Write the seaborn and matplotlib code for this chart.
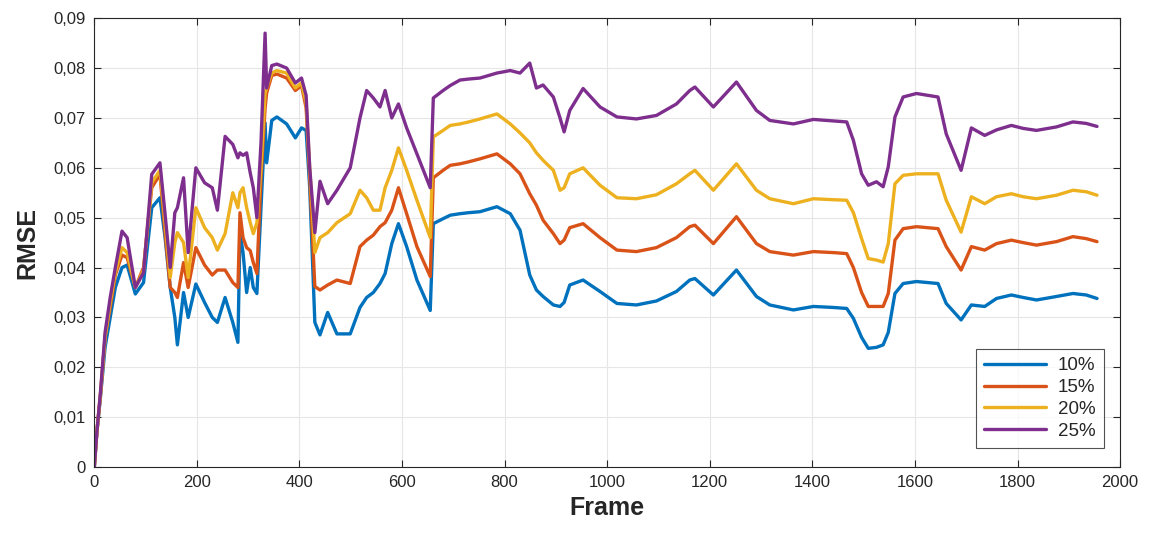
import numpy as np
import pandas as pd
import matplotlib
matplotlib.use("Agg")
import matplotlib.pyplot as plt
import seaborn as sns

frames = [0, 5, 12, 21, 31, 41, 54, 64, 80, 96, 112, 128, 138, 148, 157, 162, 174, 183, 198, 215,
          230, 240, 255, 270, 280, 284, 290, 297, 304, 310, 317, 325, 333, 336, 346, 356, 375, 392,
          404, 413, 420, 430, 440, 455, 473, 499, 518, 531, 544, 557, 567, 580, 593, 609, 629, 655,
          661, 680, 694, 713, 730, 752, 785, 811, 830, 849, 862, 875, 895, 908, 916, 927, 953, 986,
          1019, 1057, 1096, 1135, 1161, 1171, 1207, 1252, 1291, 1317, 1363, 1402, 1441, 1467, 1480,
          1496, 1509, 1525, 1538, 1548, 1561, 1577, 1603, 1645, 1661, 1690, 1710, 1736, 1759, 1788,
          1811, 1837, 1876, 1908, 1934, 1955]

rmse_10 = [0, 0.007, 0.014, 0.024, 0.030, 0.036, 0.040, 0.0405, 0.0347, 0.037, 0.052, 0.054, 0.046,
           0.036, 0.030, 0.0245, 0.035, 0.030, 0.0367, 0.033, 0.030, 0.029, 0.034, 0.029, 0.025, 0.047,
           0.043, 0.035, 0.040, 0.036, 0.0348, 0.052, 0.069, 0.061, 0.0695, 0.0702, 0.0688, 0.066,
           0.068, 0.0675, 0.056, 0.029, 0.0265, 0.031, 0.0267, 0.0267, 0.032, 0.034, 0.035, 0.0368,
           0.0388, 0.0448, 0.0488, 0.0442, 0.0375, 0.0314, 0.0488, 0.0498, 0.0505, 0.0508, 0.051,
           0.0512, 0.0522, 0.0508, 0.0475, 0.0385, 0.0355, 0.0342, 0.0325, 0.0322, 0.033, 0.0365,
           0.0375, 0.0352, 0.0328, 0.0325, 0.0333, 0.0352, 0.0375, 0.0378, 0.0345, 0.0395, 0.0342,
           0.0325, 0.0315, 0.0322, 0.032, 0.0318, 0.0298, 0.026, 0.0238, 0.024, 0.0245, 0.027, 0.0348,
           0.0368, 0.0372, 0.0368, 0.0328, 0.0295, 0.0325, 0.0322, 0.0338, 0.0345, 0.034, 0.0335,
           0.0342, 0.0348, 0.0345, 0.0338]

rmse_15 = [0, 0.007, 0.0145, 0.026, 0.032, 0.0385, 0.0425, 0.042, 0.036, 0.040, 0.056, 0.0587, 0.047,
           0.036, 0.035, 0.034, 0.041, 0.036, 0.044, 0.0405, 0.0385, 0.0395, 0.0395, 0.037, 0.036,
           0.051, 0.046, 0.044, 0.0434, 0.041, 0.0388, 0.058, 0.072, 0.075, 0.0785, 0.0788, 0.078,
           0.0755, 0.0765, 0.072, 0.058, 0.0362, 0.0355, 0.0365, 0.0375, 0.0368, 0.0442, 0.0455,
           0.0465, 0.0482, 0.049, 0.0515, 0.056, 0.0508, 0.0442, 0.0382, 0.058, 0.0595, 0.0605, 0.0608,
           0.0612, 0.0618, 0.0628, 0.0608, 0.0588, 0.0548, 0.0525, 0.0495, 0.0468, 0.0448, 0.0455,
           0.048, 0.0488, 0.046, 0.0435, 0.0432, 0.044, 0.046, 0.0482, 0.0485, 0.0448, 0.0502, 0.0448,
           0.0432, 0.0425, 0.0432, 0.043, 0.0428, 0.040, 0.035, 0.0322, 0.0322, 0.0322, 0.0348, 0.0455,
           0.0478, 0.0482, 0.0478, 0.0442, 0.0395, 0.0442, 0.0435, 0.0448, 0.0455, 0.045, 0.0445,
           0.0452, 0.0462, 0.0458, 0.0452]

rmse_20 = [0, 0.007, 0.0145, 0.026, 0.033, 0.039, 0.044, 0.043, 0.036, 0.0395, 0.057, 0.0595, 0.049,
           0.038, 0.045, 0.047, 0.045, 0.038, 0.052, 0.048, 0.046, 0.0435, 0.0468, 0.055, 0.052, 0.055,
           0.056, 0.052, 0.049, 0.0468, 0.049, 0.060, 0.075, 0.076, 0.079, 0.0795, 0.079, 0.076, 0.077,
           0.073, 0.060, 0.043, 0.046, 0.047, 0.049, 0.0508, 0.0555, 0.054, 0.0515, 0.0515, 0.056,
           0.0595, 0.064, 0.0595, 0.0535, 0.046, 0.0662, 0.0675, 0.0685, 0.0688, 0.0692, 0.0698, 0.0708,
           0.0688, 0.067, 0.065, 0.063, 0.0615, 0.0595, 0.0555, 0.056, 0.0588, 0.0600, 0.0565, 0.054,
           0.0538, 0.0546, 0.0568, 0.0588, 0.0595, 0.0555, 0.0608, 0.0555, 0.0538, 0.0528, 0.0538,
           0.0536, 0.0535, 0.051, 0.0458, 0.0418, 0.0415, 0.0411, 0.0448, 0.0568, 0.0585, 0.0588,
           0.0588, 0.0535, 0.0471, 0.0542, 0.0528, 0.0542, 0.0548, 0.0542, 0.0538, 0.0545, 0.0555,
           0.0552, 0.0545]

rmse_25 = [0, 0.007, 0.015, 0.027, 0.034, 0.040, 0.0473, 0.046, 0.036, 0.039, 0.0587, 0.061, 0.0507,
           0.040, 0.051, 0.052, 0.058, 0.043, 0.060, 0.057, 0.056, 0.0515, 0.0663, 0.0647, 0.062, 0.063,
           0.0625, 0.063, 0.059, 0.056, 0.050, 0.065, 0.087, 0.076, 0.0805, 0.0808, 0.080, 0.077, 0.078,
           0.0745, 0.060, 0.047, 0.0573, 0.0528, 0.0555, 0.060, 0.070, 0.0755, 0.074, 0.0722, 0.0755,
           0.070, 0.0728, 0.068, 0.0628, 0.056, 0.074, 0.0755, 0.0765, 0.0776, 0.0778, 0.078, 0.079,
           0.0795, 0.079, 0.081, 0.076, 0.0766, 0.0742, 0.070, 0.0672, 0.0715, 0.0759, 0.0722, 0.0702,
           0.0698, 0.0705, 0.0728, 0.0755, 0.0762, 0.0722, 0.0772, 0.0715, 0.0695, 0.0688, 0.0697,
           0.0694, 0.0692, 0.0655, 0.0588, 0.0565, 0.0572, 0.0562, 0.0602, 0.0702, 0.0742, 0.0749,
           0.0742, 0.0668, 0.0595, 0.068, 0.0665, 0.0676, 0.0685, 0.0679, 0.0675, 0.0682, 0.0692,
           0.0689, 0.0683]

labels = ["10%", "15%", "20%", "25%"]
colors = ["#0072BD", "#D95319", "#EDB120", "#7E2F8E"]
x_ticks = [0, 200, 400, 600, 800, 1000, 1200, 1400, 1600, 1800, 2000]
y_ticks = [0, 0.01, 0.02, 0.03, 0.04, 0.05, 0.06, 0.07, 0.08, 0.09]
y_tick_labels = ["0", "0,01", "0,02", "0,03", "0,04", "0,05", "0,06", "0,07", "0,08", "0,09"]

series = [rmse_10, rmse_15, rmse_20, rmse_25]
df = pd.concat([pd.DataFrame({"Frame": frames, "RMSE": s, "Series": lab})
                for s, lab in zip(series, labels)], ignore_index=True)

sns.set_theme(style="white")
plt.rcParams["font.family"] = ["Liberation Sans", "DejaVu Sans"]

fig = plt.figure(figsize=(11.5, 5.35), dpi=100)
ax = fig.add_axes([0.082, 0.127, 0.892, 0.839])

sns.lineplot(data=df, x="Frame", y="RMSE", hue="Series", hue_order=labels,
             palette=colors, sort=False, estimator=None, linewidth=2.4, ax=ax)

ax.set_xlim(0, 2000)
ax.set_ylim(0, 0.09)
ax.set_xticks(x_ticks)
ax.set_xticklabels([str(t) for t in x_ticks])
ax.set_yticks(y_ticks)
ax.set_yticklabels(y_tick_labels)
ax.tick_params(axis="both", which="both", direction="in", length=5, width=0.8,
               labelsize=12, colors="#262626", top=True, right=True, bottom=True, left=True,
               labelcolor="#262626", pad=6)
ax.grid(True, color="#e6e6e6", linewidth=0.8)
ax.set_axisbelow(True)
for sp in ax.spines.values():
    sp.set_color("#262626")
    sp.set_linewidth(0.8)

ax.set_xlabel("Frame", fontsize=18, fontweight="bold", color="#262626", labelpad=4)
ax.set_ylabel("RMSE", fontsize=18, fontweight="bold", color="#262626", labelpad=10)

leg = ax.legend(loc="lower right", bbox_to_anchor=(0.984, 0.042), fontsize=13.5,
                frameon=True, fancybox=False, edgecolor="#262626", handlelength=3.3,
                borderpad=0.45, labelspacing=0.25, handletextpad=0.6, borderaxespad=0)
leg.get_frame().set_linewidth(0.8)
for line in leg.get_lines():
    line.set_linewidth(2.4)

fig.savefig("out.png", dpi=100)
